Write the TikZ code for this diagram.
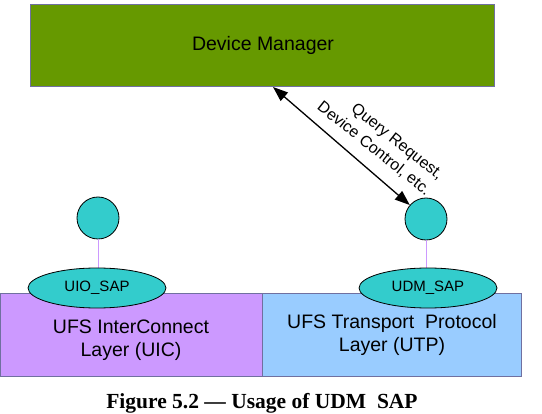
\documentclass[tikz,border=0pt]{standalone}
\usepackage{fontspec}
\setmainfont{Liberation Sans}
\newfontfamily\capfont{Liberation Serif}
\usetikzlibrary{shapes.geometric,arrows.meta}
\definecolor{dmgreen}{HTML}{669900}
\definecolor{uicpurple}{HTML}{CC99FF}
\definecolor{utpblue}{HTML}{99CCFF}
\definecolor{sapteal}{HTML}{33CCCC}
\definecolor{edgegrey}{HTML}{7070A0}
\tikzset{
  layerbox/.style={draw=edgegrey,line width=1pt,inner sep=0pt},
  boxtext/.style={font=\fontsize{19.5}{23.5}\selectfont,align=center},
  sapellipse/.style={ellipse,draw=black,line width=0.8pt,fill=sapteal,minimum width=138pt,minimum height=40pt,inner sep=0pt,font=\fontsize{15}{18}\selectfont},
  sapcircle/.style={circle,draw=black,line width=0.8pt,fill=sapteal,minimum size=42pt,inner sep=0pt},
  stem/.style={draw=uicpurple,line width=1pt},
  dblarrow/.style={{Triangle[length=15pt,width=11pt]}-{Triangle[length=15pt,width=11pt]},line width=1.3pt}
}
\begin{document}
\begin{tikzpicture}[x=1pt,y=-1pt]
\useasboundingbox (0,0) rectangle (542,414);
% Device manager
\draw[layerbox,fill=dmgreen] (30,5) rectangle (494,87);
\node[boxtext] (dm) at (263,45) {Device Manager};
% layers
\draw[layerbox,fill=uicpurple] (0,294) rectangle (262,377);
\draw[layerbox,fill=utpblue] (262,294) rectangle (521,377);
\node[boxtext] (uic) at (131,340) {UFS InterConnect\\Layer (UIC)};
\node[boxtext] (utp) at (392,335) {UFS Transport\ \ Protocol\\Layer (UTP)};
% SAPs
\node[sapcircle] (uioc) at (98,218) {};
\node[sapcircle] (udmc) at (426,219) {};
\draw[stem] (uioc.south) -- (98,268);
\draw[stem] (udmc.south) -- (426,268);
\node[sapellipse] (uio) at (97,288) {UIO\_SAP};
\node[sapellipse] (udm) at (428,288) {UDM\_SAP};
% arrow
\coordinate (dmpt) at (273,87);
\draw[dblarrow] (dmpt) -- (udmc);
\node[rotate=-38.5,align=right,font=\fontsize{16}{20}\selectfont,inner sep=0pt] (lbl) at (380,141) {Query Request,\\Device Control, etc.};
% caption
\node[anchor=base,font=\capfont\bfseries\fontsize{21.5}{25}\selectfont,inner sep=0pt] (cap) at (262,409) {Figure 5.2 \textemdash\ Usage of UDM\ \ SAP};
\end{tikzpicture}
\end{document}
